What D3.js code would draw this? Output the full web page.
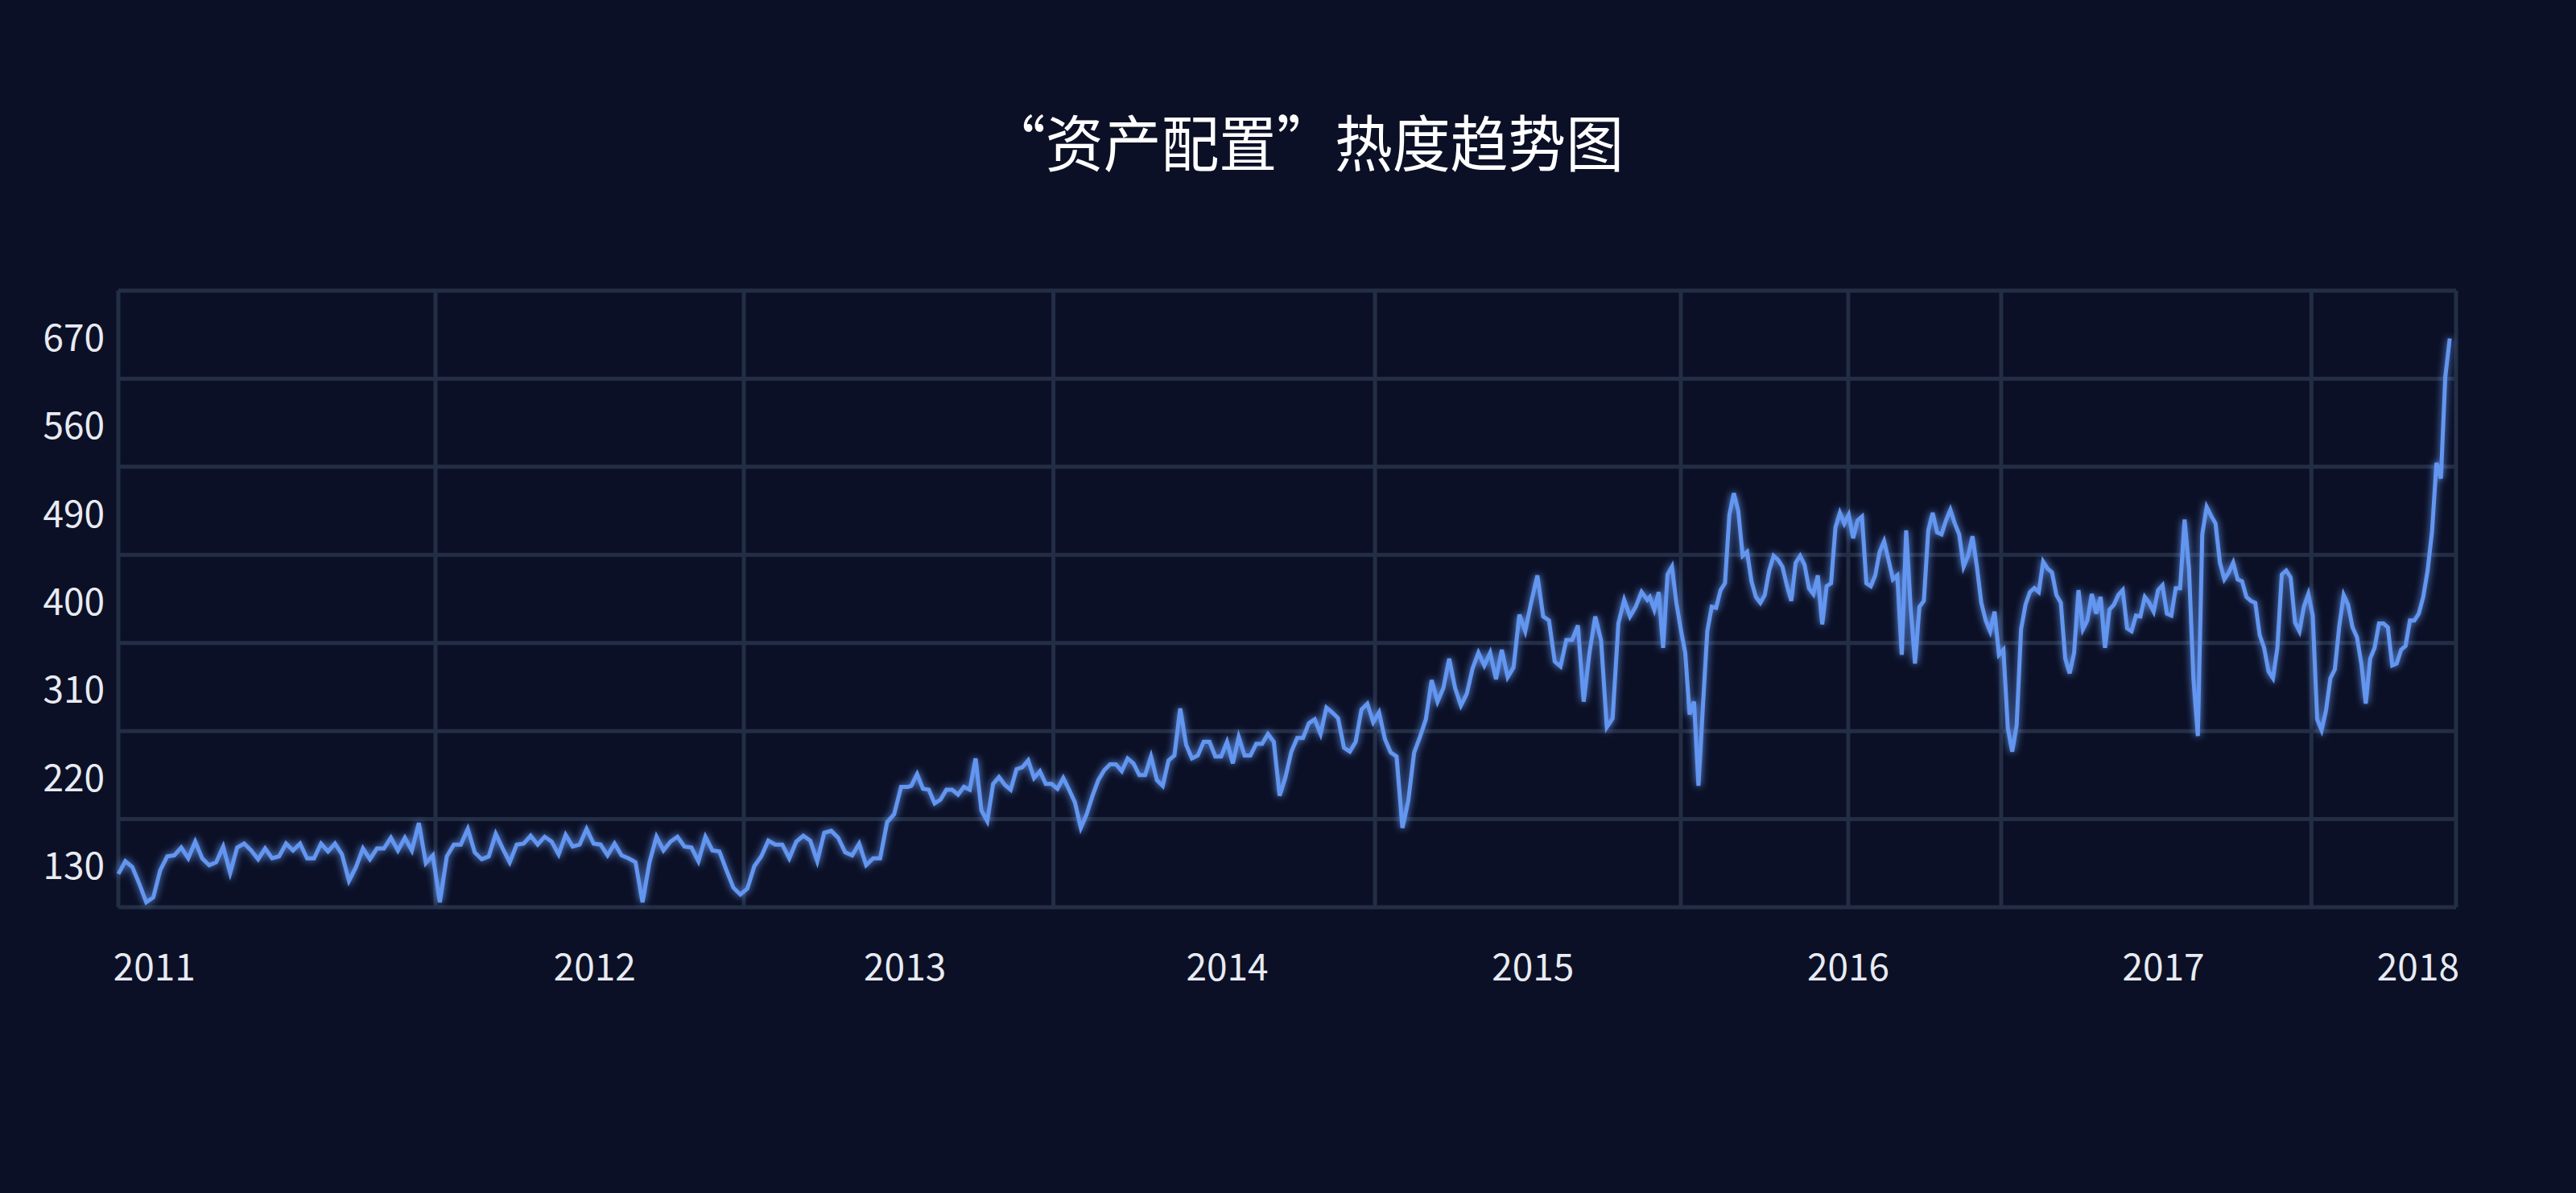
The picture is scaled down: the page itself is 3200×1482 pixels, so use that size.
<!DOCTYPE html>
<html>
<head>
<meta charset="utf-8">
<script src="https://cdn.jsdelivr.net/npm/d3@7.9.0/dist/d3.min.js"></script>
<style>
  html, body { margin: 0; padding: 0; background: #0b1026; }
  svg { display: block; }
</style>
</head>
<body>
<div id="chart"></div>
<script>
// segments of weekly readings, each spread evenly between its start and end week
const seg2011 = [119,132,126,109,90,95,123,137,138,146,135,152,135,128,131,147,120,146,150,143,134,145,135,137,150,143,150,135,135,150,142,150,139,112,126,145,134,145,145,156,143,156,143,171,130,138,90,137,149,149,165,141,134,137,160,145,131,149,150,158,149,157,152,139,159,147,149,165,150,149,138,150,138,135,131,90,131,157,143,152,157,147,146,132,157,143,142,123,105,98,104,127,137,153,149,149,135,152,158,153,132,161,163,156,141,138,150,128,135,135,172,180,208,208];
const seg2013 = [209,221,206,205,191,195,205,205,200,208,205,237,184,173,211,218,210,205,226,228,235,217,224,211,211,206,217,205,192,166,180,199,215,225,231,231,224,237,232,220,220,239,215,209,235,240,288,251,237,240,254,254,239,239,254,232,259,240,240,252,252,262,254,199,218,244,258,258,273,277,262,289,284,278,248,244,254,287,293,274,284,257,243,239,166,194,243,259,277,317,295,309,339,309,291,303,329,345,332,345,318,348,320,330,384,367,396];
const seg2015a = [424,382,378,336,331,358,358,373,295,345,382,358,269,278,375,399,382,392,407,399];
const seg2015b = [402,389,407,350,425,433,396,369,345,282,295,209,290,367,392,391,409,416,486,508,490,444,448,418,402,396,404,429,444,440,433,414,398,437,444,435,411,405,424,374,413,416,473,488,477,486,462,480,484,416,413,424,448,459,440,420,424,343,470,392,334,392,398,470,488,468,466,480,491,477,466,433,444,464,433,396,378,367,387,343,348,268,244,271,369,394,407,411,407,438,431,427,404,396,339,324,345,409,369,378,405,385,402,350,389,394,404,409,370,367,383,382,402,396,387,409,414,385,383,411,411,481,431,319,260,466,494,485,477,437,420,427,437,420,418,402,398,396,363,350,326,319,350,425,429,422,376,367,392,405,383,277,266,286,319,328,372,404,394,371,361,334,293,339,350,375,375,371,332,334,348,352,378,378,385,402,429,469,539,523,627,666];
const segments = [
  { start: 0, end: 125, values: seg2011 },
  { start: 125.5, end: 223.6, values: seg2013 },
  { start: 224.6, end: 242, values: seg2015a },
  { start: 242.4, end: 369, values: seg2015b },
];

const yTickValues = [130, 220, 310, 400, 490, 580, 670];
const yTickLabels = ['130', '220', '310', '400', '490', '560', '670'];
const yGridValues = [85, 175, 265, 355, 445, 535, 625, 715];
const xGridWeeks = [0, 50.2, 99, 148, 198.9, 247.3, 273.8, 298, 347.1, 370];
const xLabelWeeks = [5.7, 75.4, 124.5, 175.5, 223.9, 273.8, 323.7, 364];
const xLabels = ['2011', '2012', '2013', '2014', '2015', '2016', '2017', '2018'];

const points = segments.flatMap(s =>
  s.values.map((v, i) => ({
    week: s.start + (s.end - s.start) * i / (s.values.length - 1),
    value: v,
  })));

const width = 3200, height = 1482;
const margin = { top: 361, right: 149, bottom: 355, left: 147 };

const svg = d3.select('#chart').append('svg')
  .attr('width', width).attr('height', height)
  .style('background', '#0b1026');

const defs = svg.append('defs');
const glow = defs.append('filter').attr('id', 'glow')
  .attr('x', '-5%').attr('y', '-5%').attr('width', '110%').attr('height', '110%');
glow.append('feGaussianBlur').attr('in', 'SourceGraphic').attr('stdDeviation', 5).attr('result', 'b');
const merge = glow.append('feMerge');
merge.append('feMergeNode').attr('in', 'b');
merge.append('feMergeNode').attr('in', 'SourceGraphic');

const x = d3.scaleLinear().domain([0, 370]).range([margin.left, width - margin.right]);
const y = d3.scaleLinear().domain([85, 715]).range([height - margin.bottom, margin.top]);

const font = '"Noto Sans CJK SC", "Noto Sans", sans-serif';

svg.append('text')
  .attr('x', 1622).attr('y', 174)
  .attr('text-anchor', 'middle').attr('dominant-baseline', 'central')
  .attr('fill', '#ffffff').attr('font-family', font).attr('font-size', 76)
  .attr('textLength', 790).attr('lengthAdjust', 'spacingAndGlyphs')
  .text('“资产配置”热度趋势图');

const grid = svg.append('g').attr('stroke', '#232e45').attr('stroke-width', 5);
grid.selectAll('line.h').data(yGridValues).join('line').attr('class', 'h')
  .attr('x1', x(0)).attr('x2', x(370))
  .attr('y1', d => y(d)).attr('y2', d => y(d));
grid.selectAll('line.v').data(xGridWeeks).join('line').attr('class', 'v')
  .attr('x1', d => x(d)).attr('x2', d => x(d))
  .attr('y1', y(715)).attr('y2', y(85));

svg.append('g').selectAll('text').data(yTickValues).join('text')
  .attr('x', 130).attr('y', d => y(d))
  .attr('text-anchor', 'end').attr('dominant-baseline', 'central')
  .attr('fill', '#e8ebf2').attr('font-family', font).attr('font-size', 46)
  .text((d, i) => yTickLabels[i]);

svg.append('g').selectAll('text').data(xLabelWeeks).join('text')
  .attr('x', d => x(d)).attr('y', 1198)
  .attr('text-anchor', 'middle').attr('dominant-baseline', 'central')
  .attr('fill', '#e8ebf2').attr('font-family', font).attr('font-size', 46)
  .text((d, i) => xLabels[i]);

const line = d3.line().x(d => x(d.week)).y(d => y(d.value));
svg.append('path').datum(points)
  .attr('d', line)
  .attr('fill', 'none')
  .attr('stroke', '#6496f0')
  .attr('stroke-width', 5)
  .attr('stroke-linejoin', 'miter')
  .attr('filter', 'url(#glow)');
</script>
</body>
</html>
